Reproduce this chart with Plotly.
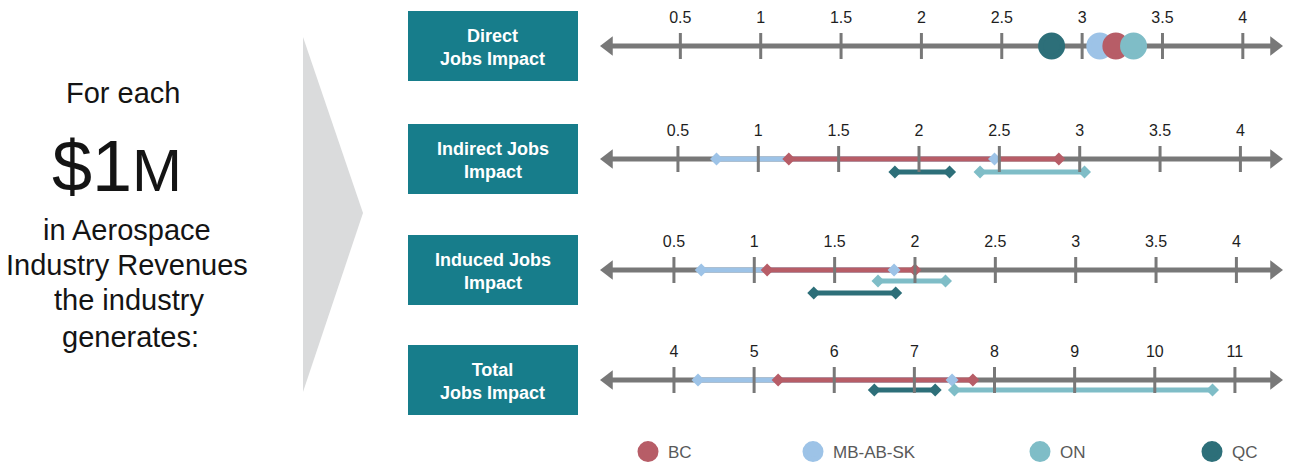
import plotly.graph_objects as go

# ---- data -------------------------------------------------------------
REGIONS = ["BC", "MB-AB-SK", "ON", "QC"]
REGION_COLORS = ["#B75D67", "#9DC3E7", "#7FBDC7", "#2D6F79"]

DIRECT_JOBS = [3.21, 3.11, 3.32, 2.81]
INDIRECT_LOW = [1.19, 0.74, 2.38, 1.85]
INDIRECT_HIGH = [2.87, 2.47, 3.03, 2.19]
INDUCED_LOW = [1.08, 0.67, 1.77, 1.37]
INDUCED_HIGH = [2.00, 1.87, 2.19, 1.88]
TOTAL_LOW = [5.30, 4.30, 7.50, 6.50]
TOTAL_HIGH = [7.73, 7.47, 10.72, 7.26]

JOB_TICKS = [0.5, 1, 1.5, 2, 2.5, 3, 3.5, 4]
TOTAL_TICKS = [4, 5, 6, 7, 8, 9, 10, 11]

ROW_TITLES = ["Direct<br>Jobs Impact", "Indirect Jobs<br>Impact",
              "Induced Jobs<br>Impact", "Total<br>Jobs Impact"]

# ---- layout constants (pixels) ----------------------------------------
W, H = 1289, 466
FONT = "Liberation Sans"
GREY = "#787878"
TEAL_BOX = "#177D8B"
ROW_Y = [46, 159, 270, 380]            # centre line of each number line
LINE_X0, LINE_X1 = 600, 1283           # arrow tip to arrow tip
AXIS_RANGES = [[0.0, 4.25], [0.015, 4.265], [0.04, 4.29], [3.077, 11.6]]
ROW_TICKS = [JOB_TICKS, JOB_TICKS, JOB_TICKS, TOTAL_TICKS]
# vertical offset (px) of each region's bar under the number line
ROW_OFFSETS = [None, [0, 0, -13, -13], [0, 0, -11, -23], [0, 0, -10, -10]]
RANGES = [None,
          (INDIRECT_LOW, INDIRECT_HIGH),
          (INDUCED_LOW, INDUCED_HIGH),
          (TOTAL_LOW, TOTAL_HIGH)]
Y_TOP, Y_BOT = 16, 28                  # subplot extent above / below the line
ARROW_SIZE = 17
LEGEND_X = [648, 813, 1040, 1212]
LEGEND_Y = 452


def px_x(v):
    return v / W


def px_y(v):
    return 1 - v / H


fig = go.Figure()
layout = {}

for r in range(4):
    ax = "" if r == 0 else str(r + 1)
    xref, yref = "x" + ax, "y" + ax
    lo, hi = AXIS_RANGES[r]
    unit_px = (LINE_X1 - LINE_X0) / (hi - lo)
    pad = (ARROW_SIZE / 2) / unit_px

    # number line with arrow heads at both ends
    fig.add_trace(go.Scatter(
        x=[lo + pad, hi - pad], y=[0, 0], xaxis=xref, yaxis=yref,
        mode="lines+markers",
        line=dict(color=GREY, width=5),
        marker=dict(symbol=["triangle-left", "triangle-right"],
                    size=ARROW_SIZE, color=GREY),
        showlegend=False, hoverinfo="skip", cliponaxis=False))

    if r > 0:
        lows, highs = RANGES[r]
        offs = ROW_OFFSETS[r]
        order = [1, 0, 3, 2]
        for i in order:
            fig.add_trace(go.Scatter(
                x=[lows[i], highs[i]], y=[offs[i], offs[i]],
                xaxis=xref, yaxis=yref, mode="lines",
                line=dict(color=REGION_COLORS[i], width=5),
                showlegend=False, hoverinfo="skip", cliponaxis=False))
        for i in order:
            fig.add_trace(go.Scatter(
                x=[lows[i], highs[i]], y=[offs[i], offs[i]],
                xaxis=xref, yaxis=yref, mode="markers",
                marker=dict(symbol="diamond", size=10,
                            color=REGION_COLORS[i]),
                showlegend=False, hoverinfo="skip", cliponaxis=False))

    # tick marks across the number line
    tx, ty = [], []
    for t in ROW_TICKS[r]:
        tx += [t, t, None]
        ty += [-13, 13, None]
    fig.add_trace(go.Scatter(
        x=tx, y=ty, xaxis=xref, yaxis=yref, mode="lines",
        line=dict(color=GREY, width=3),
        showlegend=False, hoverinfo="skip", cliponaxis=False))

    if r == 0:
        legend_names = ["legend", "legend2", "legend3", "legend4"]
        for i in [1, 0, 2, 3]:
            fig.add_trace(go.Scatter(
                x=[DIRECT_JOBS[i]], y=[0], xaxis=xref, yaxis=yref,
                mode="markers", name=REGIONS[i],
                legend=legend_names[i],
                marker=dict(symbol="circle", size=22, color=REGION_COLORS[i],
                            line=dict(color=REGION_COLORS[i], width=5)),
                showlegend=True, hoverinfo="skip", cliponaxis=False))

    y0 = ROW_Y[r]
    layout["xaxis" + ax] = dict(
        domain=[px_x(LINE_X0), px_x(LINE_X1)], range=[lo, hi],
        anchor=yref, side="top", tickmode="array",
        tickvals=ROW_TICKS[r], ticks="", showgrid=False, zeroline=False,
        showline=False, ticklabelstandoff=3,
        tickfont=dict(family=FONT, size=16, color="#1E1E1E"),
        fixedrange=True)
    layout["yaxis" + ax] = dict(
        domain=[px_y(y0 + Y_BOT), px_y(y0 - Y_TOP)], range=[-Y_BOT, Y_TOP],
        visible=False, fixedrange=True)

# ---- decorations: chevron and row title boxes ---------------------------
shapes = [dict(
    type="path", xref="paper", yref="paper",
    path=(f"M {px_x(303)},{px_y(37)} L {px_x(363)},{px_y(213)} "
          f"L {px_x(303)},{px_y(392)} Z"),
    fillcolor="#DADBDC", line=dict(width=0), layer="below")]

annotations = []
for r in range(4):
    cy = ROW_Y[r]
    shapes.append(dict(
        type="rect", xref="paper", yref="paper",
        x0=px_x(408), x1=px_x(578), y0=px_y(cy + 35), y1=px_y(cy - 35),
        fillcolor=TEAL_BOX, line=dict(width=0), layer="below"))
    annotations.append(dict(
        xref="paper", yref="paper", x=px_x(493), y=px_y(cy + 1),
        text="<b>" + ROW_TITLES[r] + "</b>", showarrow=False,
        xanchor="center", yanchor="middle",
        font=dict(family=FONT, size=18, color="white")))

left_text = [
    ("For each", 123, 93),
    ("in Aerospace", 127, 230),
    ("Industry Revenues", 127, 265),
    ("the industry", 129, 300),
    ("generates:", 130, 337),
]
for txt, cx, cy in left_text:
    annotations.append(dict(
        xref="paper", yref="paper", x=px_x(cx), y=px_y(cy), text=txt,
        showarrow=False, xanchor="center", yanchor="middle",
        font=dict(family=FONT, size=29, color="#141414")))
annotations.append(dict(
    xref="paper", yref="paper", x=px_x(117), y=px_y(166),
    text="$1<span style='font-size:60px'>M</span>", showarrow=False,
    xanchor="center", yanchor="middle",
    font=dict(family=FONT, size=72, color="#141414")))

# one legend per region so each entry can sit at its own spot
for i, name in enumerate(["legend", "legend2", "legend3", "legend4"]):
    layout[name] = dict(
        x=px_x(LEGEND_X[i] - 20), y=px_y(LEGEND_Y), xanchor="left",
        yanchor="middle", orientation="h", bgcolor="rgba(0,0,0,0)",
        font=dict(family=FONT, size=17, color="#595959"),
        itemclick=False, itemdoubleclick=False)

fig.update_layout(
    width=W, height=H,
    margin=dict(l=0, r=0, t=0, b=0, pad=0, autoexpand=False),
    paper_bgcolor="white", plot_bgcolor="rgba(0,0,0,0)",
    shapes=shapes, annotations=annotations, **layout)

fig.write_html("out.html", config={"displayModeBar": False})
